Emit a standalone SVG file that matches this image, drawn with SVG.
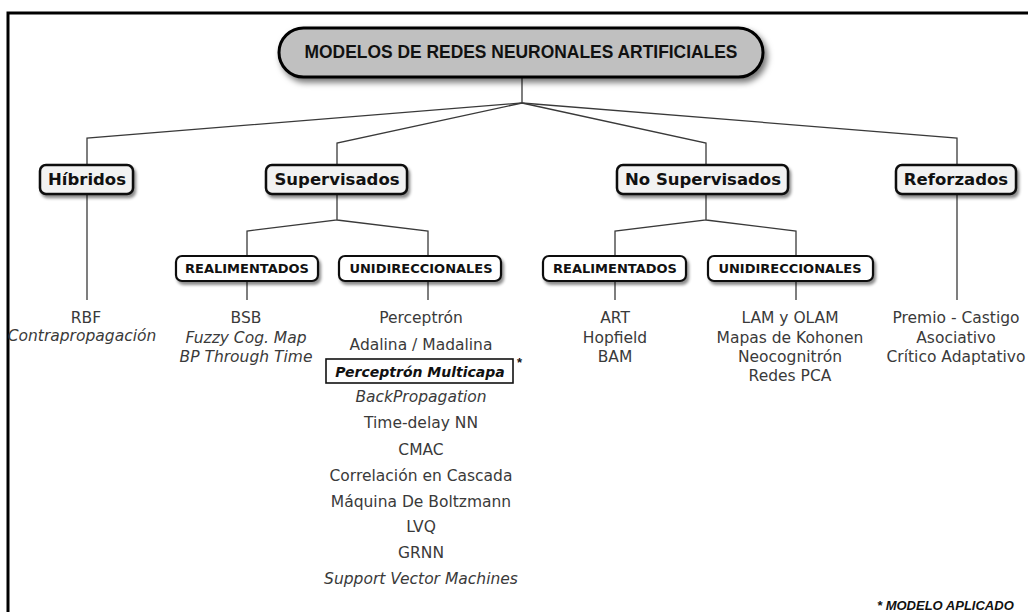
<svg xmlns="http://www.w3.org/2000/svg" width="1028" height="612" viewBox="0 0 1028 612">
  <defs>
    <filter id="shadow" x="-20%" y="-30%" width="140%" height="180%">
      <feDropShadow dx="3" dy="4" stdDeviation="3" flood-color="#000" flood-opacity="0.55"/>
    </filter>
    <filter id="shadowSmall" x="-20%" y="-30%" width="140%" height="180%">
      <feDropShadow dx="2" dy="3" stdDeviation="1.8" flood-color="#000" flood-opacity="0.45"/>
    </filter>
    <style>
      .frame { fill: none; stroke: #000; stroke-width: 3; }
      .root { fill: #c0c0c0; stroke: #000; stroke-width: 3; }
      .cat { fill: #f2f2f2; stroke: #111; stroke-width: 2.5; }
      .sub { fill: #fff; stroke: #111; stroke-width: 2.2; }
      .hl { fill: #fff; stroke: #111; stroke-width: 1.6; }
      .edge { fill: none; stroke: #3a3a3a; stroke-width: 1.3; }
      .title { font-family: "Liberation Sans", Arial, sans-serif; font-weight: bold; font-size: 18.5px; fill: #111; text-anchor: middle; }
      .catT { font-family: "DejaVu Sans", sans-serif; font-weight: bold; font-size: 16.5px; fill: #111; text-anchor: middle; }
      .subT { font-family: "DejaVu Sans", sans-serif; font-weight: bold; font-size: 13px; fill: #111; text-anchor: middle; }
      .leaf { font-family: "DejaVu Sans", sans-serif; font-size: 15.5px; fill: #3a3a3a; text-anchor: middle; }
      .it { font-style: italic; }
      .hlT { font-family: "DejaVu Sans", sans-serif; font-weight: bold; font-style: italic; font-size: 14px; fill: #111; text-anchor: middle; }
      .note { font-family: "Liberation Sans", Arial, sans-serif; font-weight: bold; font-style: italic; font-size: 13px; fill: #111; }
    </style>
  </defs>

  <rect width="1028" height="612" fill="#fff"/>
  <!-- outer frame (open on the right and bottom) -->
  <path class="frame" d="M8,614 V13 H1030"/>

  <!-- connectors -->
  <g id="connectors">
    <path class="edge" d="M522,77 V103"/>
    <path class="edge" d="M522,103 L87,138 V165"/>
    <path class="edge" d="M522,103 L337,143 V165"/>
    <path class="edge" d="M522,103 L706,143 V165"/>
    <path class="edge" d="M522,103 L957,138 V165"/>
    <path class="edge" d="M87,194 V300"/>
    <path class="edge" d="M957,194 V300"/>
    <path class="edge" d="M337,194 V220 L247,231 V256 M337,220 L428,231 V256"/>
    <path class="edge" d="M706,194 V220 L615,231 V256 M706,220 L796,231 V256"/>
    <path class="edge" d="M247,281 V300 M428,281 V300 M615,281 V300 M796,281 V300"/>
  </g>

  <!-- root -->
  <g id="root">
    <rect class="root" x="279" y="28" width="484" height="49" rx="24.5" filter="url(#shadow)"/>
    <text class="title" x="521" y="58" textLength="433" lengthAdjust="spacingAndGlyphs">MODELOS DE REDES NEURONALES ARTIFICIALES</text>
  </g>

  <!-- first level -->
  <g id="hibridos">
    <rect class="cat" x="40" y="165" width="93" height="29" rx="6" filter="url(#shadowSmall)"/>
    <text class="catT" x="87" y="185">Híbridos</text>
  </g>
  <g id="supervisados">
    <rect class="cat" x="266" y="165" width="141" height="29" rx="6" filter="url(#shadowSmall)"/>
    <text class="catT" x="337" y="185">Supervisados</text>
  </g>
  <g id="no-supervisados">
    <rect class="cat" x="617" y="165" width="171" height="29" rx="6" filter="url(#shadowSmall)"/>
    <text class="catT" x="703" y="185">No Supervisados</text>
  </g>
  <g id="reforzados">
    <rect class="cat" x="896" y="165" width="120" height="29" rx="6" filter="url(#shadowSmall)"/>
    <text class="catT" x="956" y="185">Reforzados</text>
  </g>

  <!-- second level -->
  <g id="sup-realimentados">
    <rect class="sub" x="176" y="256" width="142" height="25" rx="6" filter="url(#shadowSmall)"/>
    <text class="subT" x="247" y="273">REALIMENTADOS</text>
  </g>
  <g id="sup-unidireccionales">
    <rect class="sub" x="339" y="256" width="162" height="25" rx="6" filter="url(#shadowSmall)"/>
    <text class="subT" x="421" y="273">UNIDIRECCIONALES</text>
  </g>
  <g id="nosup-realimentados">
    <rect class="sub" x="543" y="256" width="143" height="25" rx="6" filter="url(#shadowSmall)"/>
    <text class="subT" x="615" y="273">REALIMENTADOS</text>
  </g>
  <g id="nosup-unidireccionales">
    <rect class="sub" x="708" y="256" width="165" height="25" rx="6" filter="url(#shadowSmall)"/>
    <text class="subT" x="790" y="273">UNIDIRECCIONALES</text>
  </g>

  <!-- model lists -->
  <g id="list-hibridos">
    <text class="leaf" x="86" y="323">RBF</text>
    <text class="leaf it" x="82" y="341">Contrapropagación</text>
  </g>
  <g id="list-sup-realimentados">
    <text class="leaf" x="246" y="323">BSB</text>
    <text class="leaf it" x="246" y="343">Fuzzy Cog. Map</text>
    <text class="leaf it" x="246" y="362">BP Through Time</text>
  </g>
  <g id="list-sup-unidireccionales">
    <text class="leaf" x="421" y="323">Perceptrón</text>
    <text class="leaf" x="421" y="350">Adalina / Madalina</text>
    <g id="perceptron-multicapa">
      <rect class="hl" x="326" y="359" width="187" height="24"/>
      <text class="hlT" x="420" y="377">Perceptrón Multicapa</text>
      <text class="note" x="517" y="367" style="font-style:normal">*</text>
    </g>
    <text class="leaf it" x="421" y="402">BackPropagation</text>
    <text class="leaf" x="421" y="428">Time-delay NN</text>
    <text class="leaf" x="421" y="455">CMAC</text>
    <text class="leaf" x="421" y="481">Correlación en Cascada</text>
    <text class="leaf" x="421" y="507">Máquina De Boltzmann</text>
    <text class="leaf" x="421" y="532">LVQ</text>
    <text class="leaf" x="421" y="558">GRNN</text>
    <text class="leaf it" x="421" y="584">Support Vector Machines</text>
  </g>
  <g id="list-nosup-realimentados">
    <text class="leaf" x="615" y="323">ART</text>
    <text class="leaf" x="615" y="343">Hopfield</text>
    <text class="leaf" x="615" y="362">BAM</text>
  </g>
  <g id="list-nosup-unidireccionales">
    <text class="leaf" x="790" y="323">LAM y OLAM</text>
    <text class="leaf" x="790" y="343">Mapas de Kohonen</text>
    <text class="leaf" x="790" y="362">Neocognitrón</text>
    <text class="leaf" x="790" y="381">Redes PCA</text>
  </g>
  <g id="list-reforzados">
    <text class="leaf" x="956" y="323">Premio - Castigo</text>
    <text class="leaf" x="956" y="343">Asociativo</text>
    <text class="leaf" x="956" y="362">Crítico Adaptativo</text>
  </g>

  <!-- footnote -->
  <text class="note" x="877" y="610">* MODELO APLICADO</text>
</svg>
